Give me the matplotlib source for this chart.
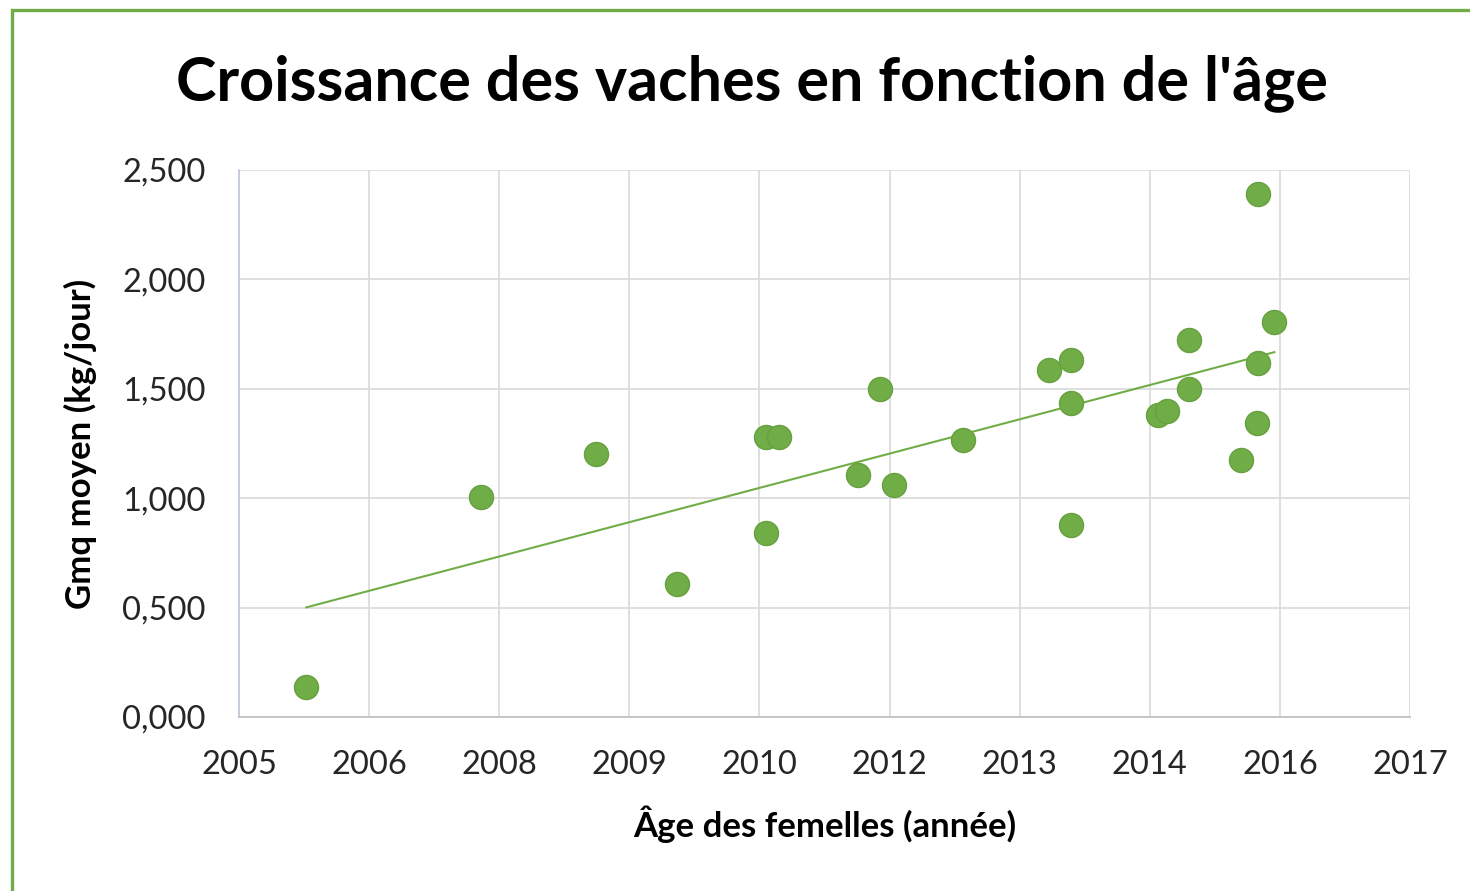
import matplotlib.pyplot as plt
from matplotlib.patches import Rectangle
import numpy as np

# birth dates (decimal years) and average daily gain (kg/day)
annee = [2006.19, 2007.98, 2009.16, 2009.99, 2010.90, 2011.03, 2010.90, 2011.84,
         2012.07, 2012.21, 2012.92, 2013.80, 2014.03, 2014.03, 2014.03, 2014.92,
         2015.01, 2015.24, 2015.24, 2015.77, 2015.94, 2015.94, 2015.93, 2016.11]
gmq = [0.137, 1.005, 1.200, 0.608, 1.280, 1.280, 0.841, 1.106,
       1.499, 1.060, 1.266, 1.586, 1.632, 1.435, 0.877, 1.380,
       1.400, 1.723, 1.499, 1.175, 2.390, 1.618, 1.344, 1.805]

# date axis as Excel drew it: 9 steps of 16 months, labelled with the year only
x_debut = 2005.5
x_pas = 4 / 3
x_ticks = [x_debut + i * x_pas for i in range(10)]
x_labels = [str(int(np.floor(t))) for t in x_ticks]
y_ticks = [0, 0.5, 1.0, 1.5, 2.0, 2.5]

vert = '#70AD47'
plt.rcParams['font.family'] = ['Lato', 'DejaVu Sans']

fig = plt.figure(figsize=(14.7, 8.91), dpi=100)
fig.patches.append(Rectangle((12 / 1470, -0.1), 1.2, (891 - 10) / 891 + 0.1,
                             transform=fig.transFigure, fill=False,
                             edgecolor=vert, linewidth=2.4))

ax = fig.add_axes([239 / 1470, (891 - 717) / 891, (1410 - 239) / 1470, (717 - 170) / 891])

# linear trendline
a, b = np.polyfit(annee, gmq, 1)
xs = np.array([min(annee), max(annee)])
ax.plot(xs, a * xs + b, color=vert, linewidth=1.5, zorder=2)

ax.scatter(annee, gmq, s=300, color=vert, edgecolors='#66A03F', linewidths=1, zorder=3)

ax.set_xlim(x_ticks[0], x_ticks[-1])
ax.set_ylim(0, 2.5)
ax.set_xticks(x_ticks)
ax.set_xticklabels(x_labels)
ax.set_yticks(y_ticks)
ax.set_yticklabels([f'{v:.3f}'.replace('.', ',') for v in y_ticks])
ax.grid(True, color='#D9D9D9', linewidth=1.2)
ax.set_axisbelow(True)
ax.tick_params(length=0, labelsize=23.5, colors='#262626')
ax.tick_params(axis='y', pad=24)
ax.tick_params(axis='x', pad=24)
for s in ['top', 'right']:
    ax.spines[s].set_visible(False)
ax.spines['left'].set_color('#BFC8DA')
ax.spines['bottom'].set_color('#BFBFBF')
ax.spines['left'].set_linewidth(1.2)
ax.spines['bottom'].set_linewidth(1.2)

ax.set_xlabel("Âge des femelles (année)", fontsize=25, fontweight='bold', labelpad=18)
ax.set_ylabel("Gmq moyen (kg/jour)", fontsize=25, fontweight='bold', labelpad=18)
fig.text(752 / 1470, 1 - 83 / 891, "Croissance des vaches en fonction de l'âge",
         ha='center', va='center', fontsize=44, fontweight='bold')

fig.savefig('out.png', dpi=100)
